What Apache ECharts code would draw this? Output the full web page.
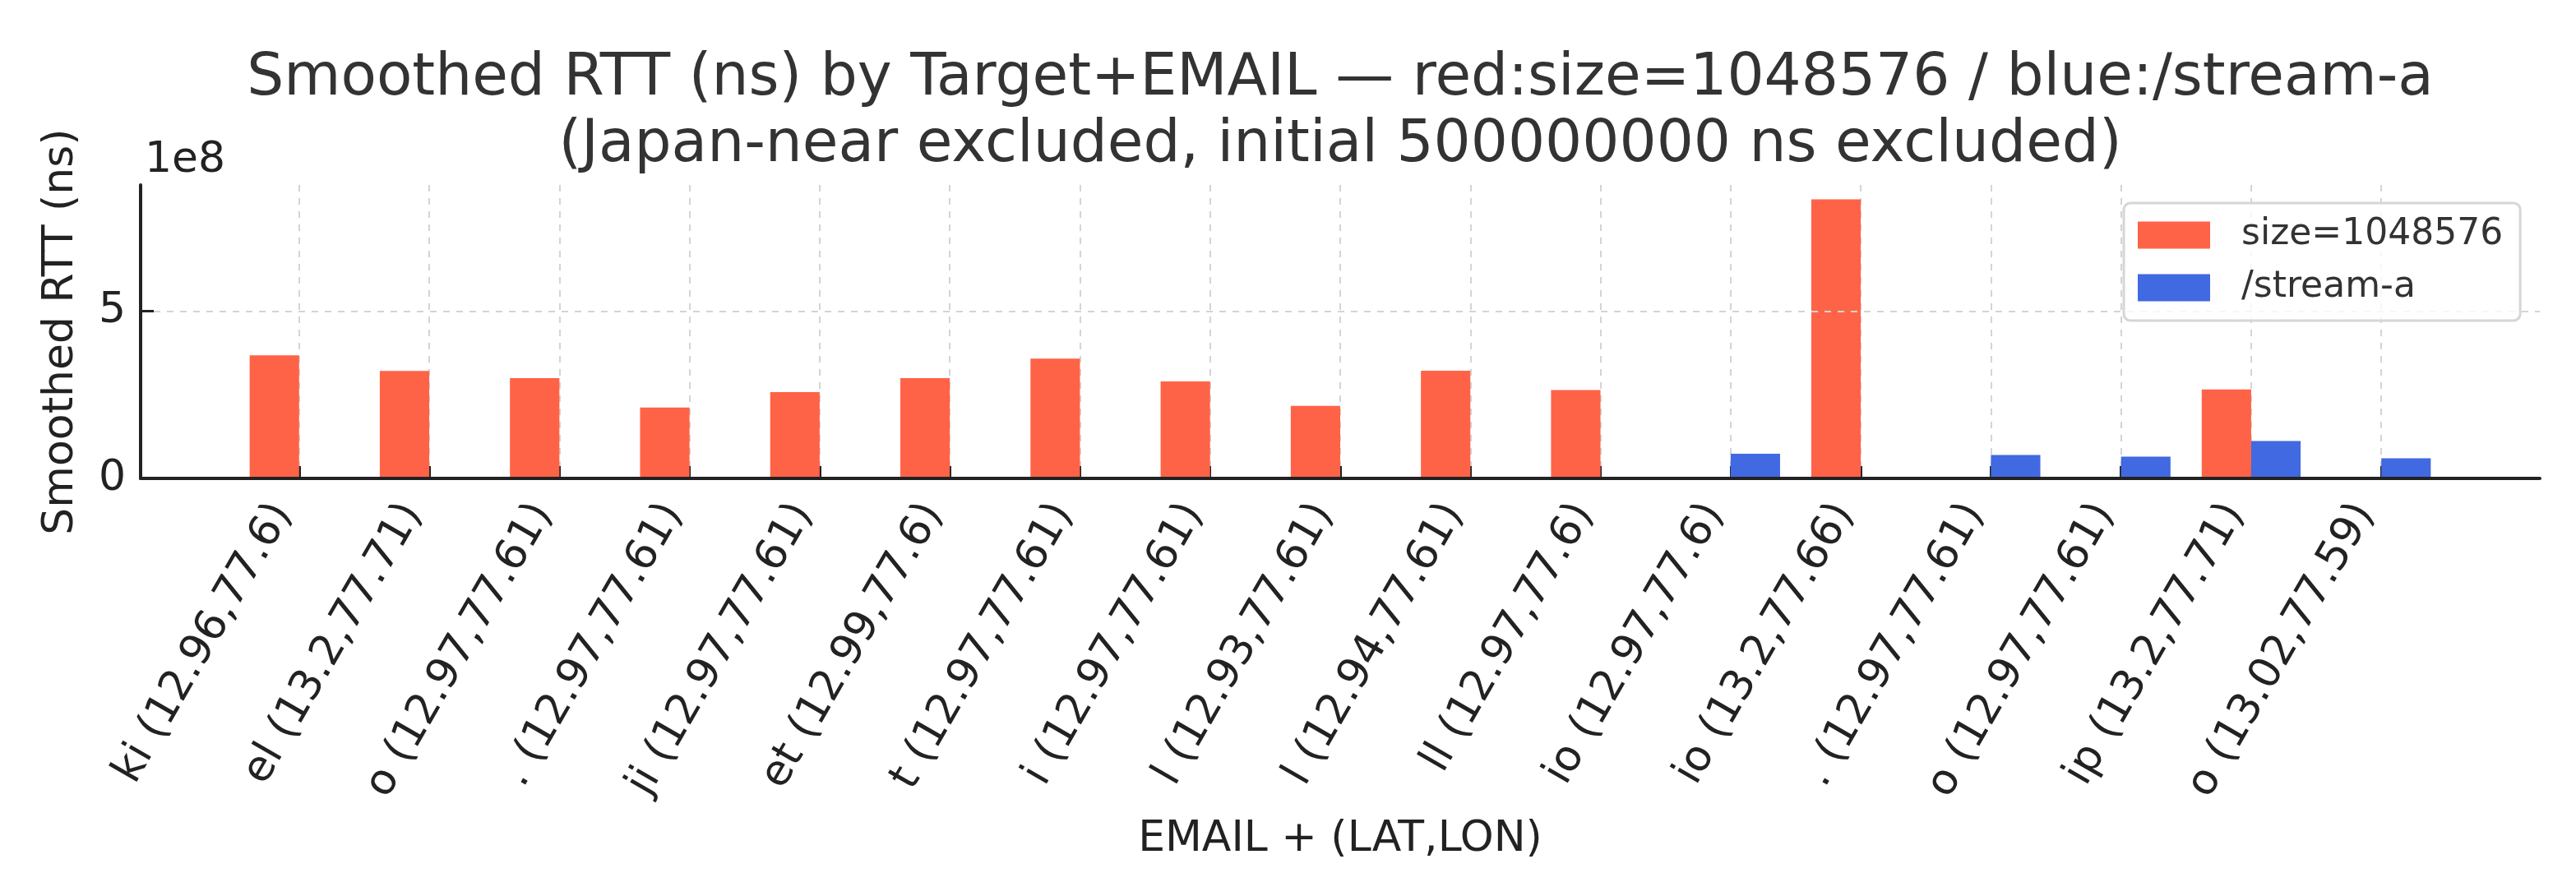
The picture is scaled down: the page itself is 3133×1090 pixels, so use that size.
<!DOCTYPE html>
<html>
<head>
    <meta charset="utf-8"/>
    <title>Smoothed RTT</title>
    <script src="https://cdn.jsdelivr.net/npm/echarts@6/dist/echarts.min.js"></script>
    <style>
        html, body { margin: 0; padding: 0; background: #fff; }
        #chart { width: 3133px; height: 1090px; }
    </style>
</head>
<body>
<div id="chart"></div>
<script>
    // x categories (EMAIL + lat,lon), visible part of each label
    const categories = [
        'ki (12.96,77.6)', 'el (13.2,77.71)', 'o (12.97,77.61)', '. (12.97,77.61)',
        'ji (12.97,77.61)', 'et (12.99,77.6)', 't (12.97,77.61)', 'i (12.97,77.61)',
        'l (12.93,77.61)', 'l (12.94,77.61)', 'll (12.97,77.6)', 'io (12.97,77.6)',
        'io (13.2,77.66)', '. (12.97,77.61)', 'o (12.97,77.61)', 'ip (13.2,77.71)',
        'o (13.02,77.59)'
    ];
    // smoothed RTT in ns, null = no bar
    const sizeVals = [3.68e8, 3.21e8, 3.00e8, 2.12e8, 2.58e8, 3.00e8, 3.58e8, 2.90e8, 2.17e8,
        3.22e8, 2.64e8, null, 8.34e8, null, null, 2.66e8, null];
    const streamVals = [null, null, null, null, null, null, null, null, null,
        null, null, 0.74e8, null, 0.70e8, 0.65e8, 1.12e8, 0.60e8];
    const yTicks = [0, 5e8];
    const yMax = 8.77e8;

    const font = 'DejaVu Sans';
    const gridColor = '#d4d4d4';

    // plot frame: 171..3089 px, x range -1.218..17.218 (category steps)
    const frameLeft = 171, frameRight = 3089;
    const step = (frameRight - frameLeft) / 18.436;
    const firstTick = frameLeft + 1.218 * step;
    const lastTick = firstTick + (categories.length - 1) * step;

    let chart = echarts.init(document.getElementById('chart'));
    chart.setOption({
        animation: false,
        backgroundColor: '#fff',
        textStyle: { fontFamily: font },
        graphic: [
            {
                type: 'text', x: 1630, y: 56,
                style: {
                    text: 'Smoothed RTT (ns) by Target+EMAIL — red:size=1048576 / blue:/stream-a\n(Japan-near excluded, initial 500000000 ns excluded)',
                    font: '71px "DejaVu Sans"', fill: '#333', textAlign: 'center',
                    textVerticalAlign: 'top', lineHeight: 81
                }
            },
            {
                type: 'text', x: 176, y: 195,
                style: { text: '1e8', font: '52px "DejaVu Sans"', fill: '#222', textVerticalAlign: 'middle' }
            }
        ],
        legend: {
            orient: 'vertical',
            left: 2583, top: 247,
            padding: [17, 21, 18, 17],
            icon: 'rect',
            itemWidth: 88, itemHeight: 33, itemGap: 20,
            backgroundColor: 'rgba(255,255,255,0.8)',
            borderColor: '#d6d6d6', borderWidth: 3, borderRadius: 8,
            textStyle: { fontSize: 44, color: '#333', fontFamily: font, lineHeight: 44, padding: [0, 0, 0, 33] },
            data: ['size=1048576', '/stream-a']
        },
        grid: [
            // bars: first tick to last tick
            { left: firstTick, right: 3133 - lastTick, top: 225, bottom: 508 },
            // frame with the spines and y ticks
            { left: frameLeft, right: 3133 - frameRight, top: 225, bottom: 508 }
        ],
        xAxis: [
            {
                type: 'category', gridIndex: 0, boundaryGap: false,
                data: categories,
                axisLine: { show: false },
                axisTick: { inside: true, length: 15, lineStyle: { color: '#222', width: 3 } },
                axisLabel: {
                    rotate: 60, margin: 0, padding: [0, 40, 0, 0], interval: 0,
                    fontSize: 52, color: '#222', fontFamily: font
                },
                splitLine: { show: true, interval: 0, lineStyle: { color: gridColor, width: 2, type: [8, 8] } },
                z: 1
            },
            {
                type: 'value', gridIndex: 1, min: 0, max: 1,
                name: 'EMAIL + (LAT,LON)',
                nameLocation: 'middle', nameGap: 413, nameMoveOverlap: false,
                nameTextStyle: { fontSize: 52, color: '#222', fontFamily: font },
                axisLine: { onZero: false, lineStyle: { color: '#222', width: 4 } },
                axisTick: { show: false },
                axisLabel: { show: false },
                splitLine: { show: false },
                z: 3
            }
        ],
        yAxis: [
            { type: 'value', gridIndex: 0, min: 0, max: yMax, show: false },
            {
                type: 'value', gridIndex: 1, min: 0, max: yMax,
                name: 'Smoothed RTT (ns)',
                nameLocation: 'middle', nameGap: 71, nameMoveOverlap: false,
                nameTextStyle: { fontSize: 52, color: '#222', fontFamily: font },
                axisLine: { show: true, onZero: false, lineStyle: { color: '#222', width: 4 } },
                axisTick: { show: true, inside: true, length: 16, customValues: yTicks, lineStyle: { color: '#222', width: 3 } },
                axisLabel: { customValues: yTicks, fontSize: 52, color: '#222', margin: 18, formatter: v => String(v / 1e8) },
                splitLine: { show: true, lineStyle: { color: gridColor, width: 2, type: [8, 8] } },
                z: 3
            }
        ],
        series: [
            {
                name: 'size=1048576', type: 'bar', xAxisIndex: 0, yAxisIndex: 0,
                barWidth: step * 0.38, barGap: '0%', clip: false,
                itemStyle: { color: '#FF6347' },
                data: sizeVals
            },
            {
                name: '/stream-a', type: 'bar', xAxisIndex: 0, yAxisIndex: 0,
                barWidth: step * 0.38, barGap: '0%', clip: false,
                itemStyle: { color: '#4169E1' },
                data: streamVals
            }
        ]
    });
</script>
</body>
</html>
